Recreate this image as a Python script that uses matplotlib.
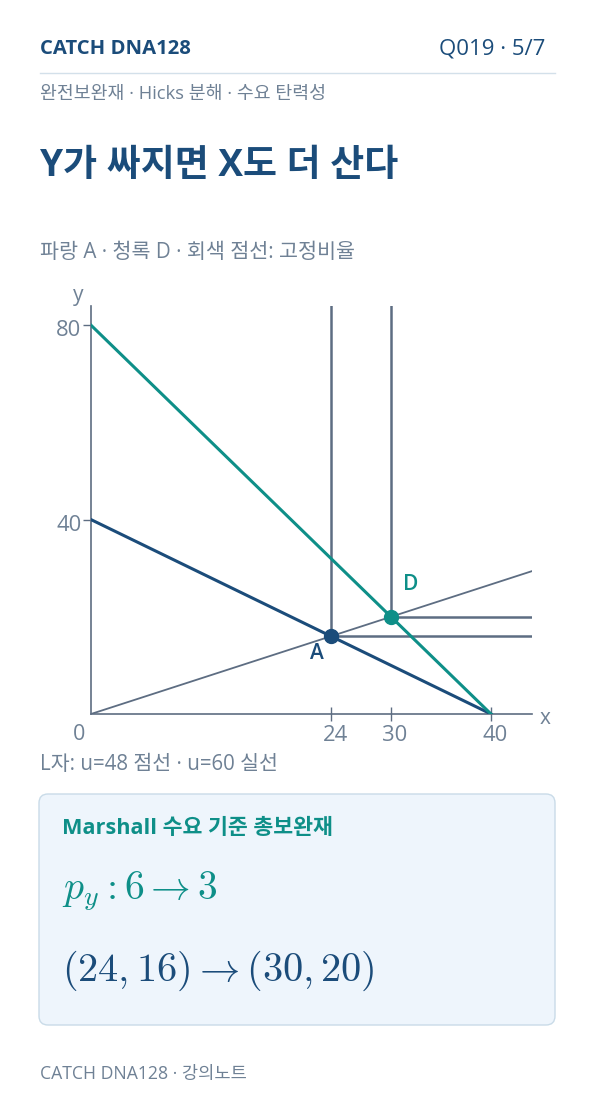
import matplotlib
matplotlib.use("Agg")
import matplotlib.pyplot as plt
from matplotlib.patches import FancyBboxPatch
from matplotlib.transforms import ScaledTranslation

plt.rcParams['font.family'] = ['Open Sans', 'Noto Sans CJK KR', 'DejaVu Sans']
plt.rcParams['mathtext.fontset'] = 'cm'

# ---- data ----
x_intercept = 40          # income / p_x
y_intercept_before = 40   # p_y = 6
y_intercept_after = 80    # p_y = 3
point_A = (24, 16)
point_D = (30, 20)
ratio_slope = 16 / 24     # fixed ratio y/x
x_ticks = [24, 30, 40]
y_ticks = [40, 80]
x_max = 44.1
y_max = 84

NAVY = '#1b4c7a'
TEAL = '#0e8f88'
GREY = '#5d6d82'
TXTGREY = '#6f8195'

W, H = 596, 1106
fig = plt.figure(figsize=(W / 100, H / 100), dpi=100)
fig.patch.set_facecolor('white')

# background axes in pixel coords
bg = fig.add_axes([0, 0, 1, 1])
bg.set_xlim(0, W)
bg.set_ylim(H, 0)
bg.axis('off')

bg.text(40, 49, 'CATCH DNA128', fontsize=14.6, fontweight='bold', color=NAVY, va='center', ha='left')
bg.text(545, 49, 'Q019 · 5/7', fontsize=16, color=NAVY, va='center', ha='right')
bg.plot([40, 555], [73, 73], color='#d3e0ea', lw=1)
bg.text(40, 94, '완전보완재 · Hicks 분해 · 수요 탄력성', fontsize=13.2, color=TXTGREY, va='center', ha='left')
bg.text(40, 166, 'Y가 싸지면 X도 더 산다', fontsize=26.6, fontweight='bold', color=NAVY, va='center', ha='left')
bg.text(40, 253, '파랑 A · 청록 D · 회색 점선: 고정비율', fontsize=14.9, color=TXTGREY, va='center', ha='left')
bg.text(78, 296, 'y', fontsize=15, color=TXTGREY, va='center', ha='center')
bg.text(545, 719, 'x', fontsize=15, color=TXTGREY, va='center', ha='center')
bg.text(79, 734, '0', fontsize=15.5, color=TXTGREY, va='center', ha='center')
bg.text(40, 765, 'L자: u=48 점선 · u=60 실선', fontsize=14.8, color=TXTGREY, va='center', ha='left')

box = FancyBboxPatch((39, 794), 516, 231, boxstyle='round,pad=0,rounding_size=9',
                     facecolor='#eef5fc', edgecolor='#c9dbe8', lw=1)
bg.add_patch(box)
bg.text(62, 828, 'Marshall 수요 기준 총보완재', fontsize=15.6, fontweight='bold', color=TEAL, va='center', ha='left')
bg.text(62, 891, r'$p_y: 6 \rightarrow 3$', fontsize=28.5, color=TEAL, va='center', ha='left')
bg.text(62, 971, r'$(24, 16) \rightarrow (30, 20)$', fontsize=29, color=NAVY, va='center', ha='left')
bg.text(40, 1074, 'CATCH DNA128 · 강의노트', fontsize=12.7, color=TXTGREY, va='center', ha='left')

# plot axes: origin at pixel (91, 714)
px_x = 10.0
px_y = 4.86
left, bottom = 91, 714
ax = fig.add_axes([left / W, (H - bottom) / H, x_max * px_x / W, y_max * px_y / H])
ax.set_xlim(0, x_max)
ax.set_ylim(0, y_max)
ax.patch.set_alpha(0)
for s in ['top', 'right']:
    ax.spines[s].set_visible(False)
for s in ['left', 'bottom']:
    ax.spines[s].set_color(GREY)
    ax.spines[s].set_linewidth(1.2)
ax.set_xticks(x_ticks)
ax.set_yticks(y_ticks)
ax.tick_params(axis='both', direction='inout', length=10, width=1, color=GREY,
               labelcolor=TXTGREY, labelsize=15.8, pad=3)
ax.tick_params(axis='y', direction='out', length=6, pad=1)
shift_x = ScaledTranslation(4 / 100, 0, fig.dpi_scale_trans)
shift_y = ScaledTranslation(0, -3 / 100, fig.dpi_scale_trans)
for lab in ax.get_xticklabels():
    lab.set_transform(lab.get_transform() + shift_x)
for lab in ax.get_yticklabels():
    lab.set_transform(lab.get_transform() + shift_y)

# fixed ratio ray
ax.plot([0, x_max], [0, ratio_slope * x_max], color=GREY, lw=1.3, zorder=2)
# L-shaped indifference curves
for (px, py) in [point_A, point_D]:
    ax.plot([px, px, x_max], [y_max, py, py], color=GREY, lw=1.8, zorder=2, solid_joinstyle='miter')
# budget lines
ax.plot([0, x_intercept], [y_intercept_before, 0], color=NAVY, lw=2.2, zorder=3)
ax.plot([0, x_intercept], [y_intercept_after, 0], color=TEAL, lw=2.2, zorder=3)
# points
ax.plot(*point_A, 'o', color=NAVY, ms=10, zorder=5)
ax.plot(*point_D, 'o', color=TEAL, ms=10, zorder=5)
ax.annotate('A', point_A, xytext=(-14, -17), textcoords='offset pixels', color=NAVY,
            fontsize=15, fontweight='semibold', ha='center', va='center')
ax.annotate('D', point_D, xytext=(20, 32), textcoords='offset pixels', color=TEAL,
            fontsize=15, fontweight='semibold', ha='center', va='center')

fig.savefig('out.png', dpi=100, facecolor='white')
